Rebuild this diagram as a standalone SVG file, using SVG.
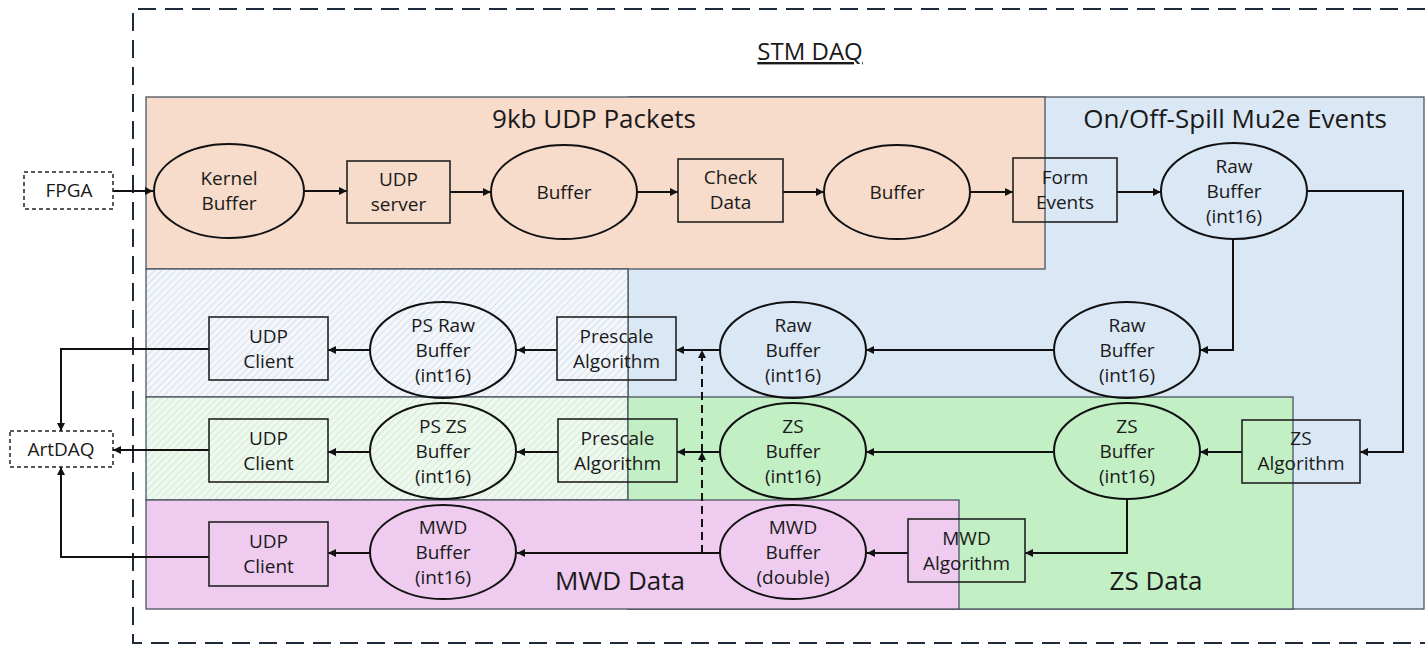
<svg xmlns="http://www.w3.org/2000/svg" width="1425" height="646" viewBox="0 0 1425 646">
<style>
.region{stroke:#4a5560;stroke-width:1.3}
.node{fill:none;stroke:#222;stroke-width:1.6}
.ell{fill:none;stroke:#111;stroke-width:2}
.term{fill:#fff;stroke:#222;stroke-width:1.5;stroke-dasharray:4 3}
.t{font-family:"Open Sans","Liberation Sans",sans-serif;font-size:19px;fill:#1a1a1a;text-anchor:middle}
.h{font-family:"Open Sans","Liberation Sans",sans-serif;font-size:26px;fill:#1a1a1a;text-anchor:middle}
.conn path{fill:none;stroke:#111;stroke-width:2}
.conn path.dash{stroke-dasharray:8 5}
</style>
<defs>
<marker id="ah" viewBox="0 0 10 10" refX="10" refY="5" markerWidth="10" markerHeight="8" markerUnits="userSpaceOnUse" orient="auto">
<path d="M0,0 L10,5 L0,10 z" fill="#111"/>
</marker>
<pattern id="hb" width="5" height="5" patternUnits="userSpaceOnUse" patternTransform="rotate(45)">
<rect width="5" height="5" fill="#f3f6fa"/>
<line x1="0" y1="0" x2="0" y2="5" stroke="#c4d3e3" stroke-width="1.2"/>
</pattern>
<pattern id="hg" width="5" height="5" patternUnits="userSpaceOnUse" patternTransform="rotate(45)">
<rect width="5" height="5" fill="#eef8ef"/>
<line x1="0" y1="0" x2="0" y2="5" stroke="#bfe3c2" stroke-width="1.2"/>
</pattern>
</defs>
<rect width="1425" height="646" fill="#fff"/>

<g id="regions">
<rect class="region" x="628" y="97" width="796" height="512" fill="#dae7f5"/>
<rect class="region" x="146" y="97" width="899" height="172" fill="#f7dbcb"/>
<rect class="region" x="146" y="269" width="482" height="128" fill="url(#hb)"/>
<rect class="region" x="146" y="397" width="482" height="103" fill="url(#hg)"/>
<rect class="region" x="628" y="397" width="665" height="212" fill="#c3efc5"/>
<rect class="region" x="146" y="500" width="813" height="109" fill="#eecbef"/>
<path d="M1425,9 H133 V643 H1425" fill="none" stroke="#1d2b3a" stroke-width="2" stroke-dasharray="18 9"/>
</g>

<g id="labels">
<text class="h" x="810" y="60" font-size="24" style="font-size:24px" text-decoration="underline">STM DAQ</text>
<text class="h" x="594" y="128">9kb UDP Packets</text>
<text class="h" x="1235" y="128">On/Off-Spill Mu2e Events</text>
<text class="h" x="620" y="590">MWD Data</text>
<text class="h" x="1156" y="590">ZS Data</text>
</g>

<g class="conn" id="connectors">
<path d="M113,191 H153" marker-end="url(#ah)"/>
<path d="M304,191 H347" marker-end="url(#ah)"/>
<path d="M450,192 H491" marker-end="url(#ah)"/>
<path d="M637,192 H678" marker-end="url(#ah)"/>
<path d="M783,192 H824" marker-end="url(#ah)"/>
<path d="M970,192 H1013" marker-end="url(#ah)"/>
<path d="M1117,192 H1161" marker-end="url(#ah)"/>
<path d="M1307,191 H1403 V452 H1360" marker-end="url(#ah)"/>
<path d="M1233,239 V350 H1200" marker-end="url(#ah)"/>
<path d="M1053,350 H866" marker-end="url(#ah)"/>
<path d="M720,350 H676" marker-end="url(#ah)"/>
<path d="M557,350 H517" marker-end="url(#ah)"/>
<path d="M370,350 H328" marker-end="url(#ah)"/>
<path d="M209,349 H61 V431" marker-end="url(#ah)"/>
<path d="M1242,452 H1200" marker-end="url(#ah)"/>
<path d="M1053,452 H866" marker-end="url(#ah)"/>
<path d="M720,452 H677" marker-end="url(#ah)"/>
<path d="M558,452 H517" marker-end="url(#ah)"/>
<path d="M370,452 H328" marker-end="url(#ah)"/>
<path d="M209,450 H113" marker-end="url(#ah)"/>
<path d="M1127,498 V553 H1025" marker-end="url(#ah)"/>
<path d="M908,553 H867" marker-end="url(#ah)"/>
<path d="M720,553 H517" marker-end="url(#ah)"/>
<path d="M370,553 H328" marker-end="url(#ah)"/>
<path d="M209,557 H61 V467" marker-end="url(#ah)"/>
<path class="dash" d="M702,553 V452" marker-end="url(#ah)"/>
<path class="dash" d="M702,452 V350" marker-end="url(#ah)"/>
</g>

<g id="fpga"><rect class="term" x="24" y="172" width="89" height="37"/><text class="t" x="69" y="197">FPGA</text></g>
<g id="artdaq"><rect class="term" x="10" y="431" width="103" height="36"/><text class="t" x="61" y="456">ArtDAQ</text></g>

<g id="kernel-buffer"><ellipse class="ell" cx="229" cy="191" rx="75" ry="47"/><text class="t" x="229" y="185">Kernel<tspan x="229" dy="25">Buffer</tspan></text></g>
<g id="udp-server"><rect class="node" x="347" y="161" width="103" height="62"/><text class="t" x="398.5" y="186">UDP<tspan x="398.5" dy="25">server</tspan></text></g>
<g id="buffer1"><ellipse class="ell" cx="564" cy="192" rx="73" ry="47"/><text class="t" x="564" y="199">Buffer</text></g>
<g id="check-data"><rect class="node" x="678" y="159" width="105" height="63"/><text class="t" x="730.5" y="184">Check<tspan x="730.5" dy="25">Data</tspan></text></g>
<g id="buffer2"><ellipse class="ell" cx="897" cy="192" rx="73" ry="47"/><text class="t" x="897" y="199">Buffer</text></g>
<g id="form-events"><rect class="node" x="1013" y="158" width="104" height="64"/><text class="t" x="1065" y="184">Form<tspan x="1065" dy="25">Events</tspan></text></g>
<g id="raw-buffer-top"><ellipse class="ell" cx="1234" cy="191" rx="73" ry="48"/><text class="t" x="1234" y="173">Raw<tspan x="1234" dy="25">Buffer</tspan><tspan x="1234" dy="25">(int16)</tspan></text></g>

<g id="raw-buffer-right"><ellipse class="ell" cx="1127" cy="350" rx="73" ry="48"/><text class="t" x="1127" y="332">Raw<tspan x="1127" dy="25">Buffer</tspan><tspan x="1127" dy="25">(int16)</tspan></text></g>
<g id="raw-buffer-mid"><ellipse class="ell" cx="793" cy="350" rx="73" ry="48"/><text class="t" x="793" y="332">Raw<tspan x="793" dy="25">Buffer</tspan><tspan x="793" dy="25">(int16)</tspan></text></g>
<g id="prescale-raw"><rect class="node" x="557" y="317" width="119" height="63"/><text class="t" x="616.5" y="343">Prescale<tspan x="616.5" dy="25">Algorithm</tspan></text></g>
<g id="ps-raw-buffer"><ellipse class="ell" cx="443" cy="350" rx="73" ry="48"/><text class="t" x="443" y="332">PS Raw<tspan x="443" dy="25">Buffer</tspan><tspan x="443" dy="25">(int16)</tspan></text></g>
<g id="udp-client-raw"><rect class="node" x="209" y="317" width="119" height="63"/><text class="t" x="268.5" y="343">UDP<tspan x="268.5" dy="25">Client</tspan></text></g>

<g id="zs-algorithm"><rect class="node" x="1242" y="420" width="118" height="63"/><text class="t" x="1301" y="445">ZS<tspan x="1301" dy="25">Algorithm</tspan></text></g>
<g id="zs-buffer-right"><ellipse class="ell" cx="1127" cy="451" rx="73" ry="48"/><text class="t" x="1127" y="433">ZS<tspan x="1127" dy="25">Buffer</tspan><tspan x="1127" dy="25">(int16)</tspan></text></g>
<g id="zs-buffer-mid"><ellipse class="ell" cx="793" cy="451" rx="73" ry="48"/><text class="t" x="793" y="433">ZS<tspan x="793" dy="25">Buffer</tspan><tspan x="793" dy="25">(int16)</tspan></text></g>
<g id="prescale-zs"><rect class="node" x="558" y="419" width="119" height="63"/><text class="t" x="617.5" y="445">Prescale<tspan x="617.5" dy="25">Algorithm</tspan></text></g>
<g id="ps-zs-buffer"><ellipse class="ell" cx="443" cy="451" rx="73" ry="48"/><text class="t" x="443" y="433">PS ZS<tspan x="443" dy="25">Buffer</tspan><tspan x="443" dy="25">(int16)</tspan></text></g>
<g id="udp-client-zs"><rect class="node" x="209" y="419" width="119" height="63"/><text class="t" x="268.5" y="445">UDP<tspan x="268.5" dy="25">Client</tspan></text></g>

<g id="mwd-algorithm"><rect class="node" x="908" y="519" width="117" height="63"/><text class="t" x="966.5" y="545">MWD<tspan x="966.5" dy="25">Algorithm</tspan></text></g>
<g id="mwd-buffer-double"><ellipse class="ell" cx="793" cy="552" rx="73" ry="47"/><text class="t" x="793" y="534">MWD<tspan x="793" dy="25">Buffer</tspan><tspan x="793" dy="25">(double)</tspan></text></g>
<g id="mwd-buffer-int16"><ellipse class="ell" cx="443" cy="552" rx="73" ry="47"/><text class="t" x="443" y="534">MWD<tspan x="443" dy="25">Buffer</tspan><tspan x="443" dy="25">(int16)</tspan></text></g>
<g id="udp-client-mwd"><rect class="node" x="209" y="522" width="119" height="64"/><text class="t" x="268.5" y="548">UDP<tspan x="268.5" dy="25">Client</tspan></text></g>
</svg>
